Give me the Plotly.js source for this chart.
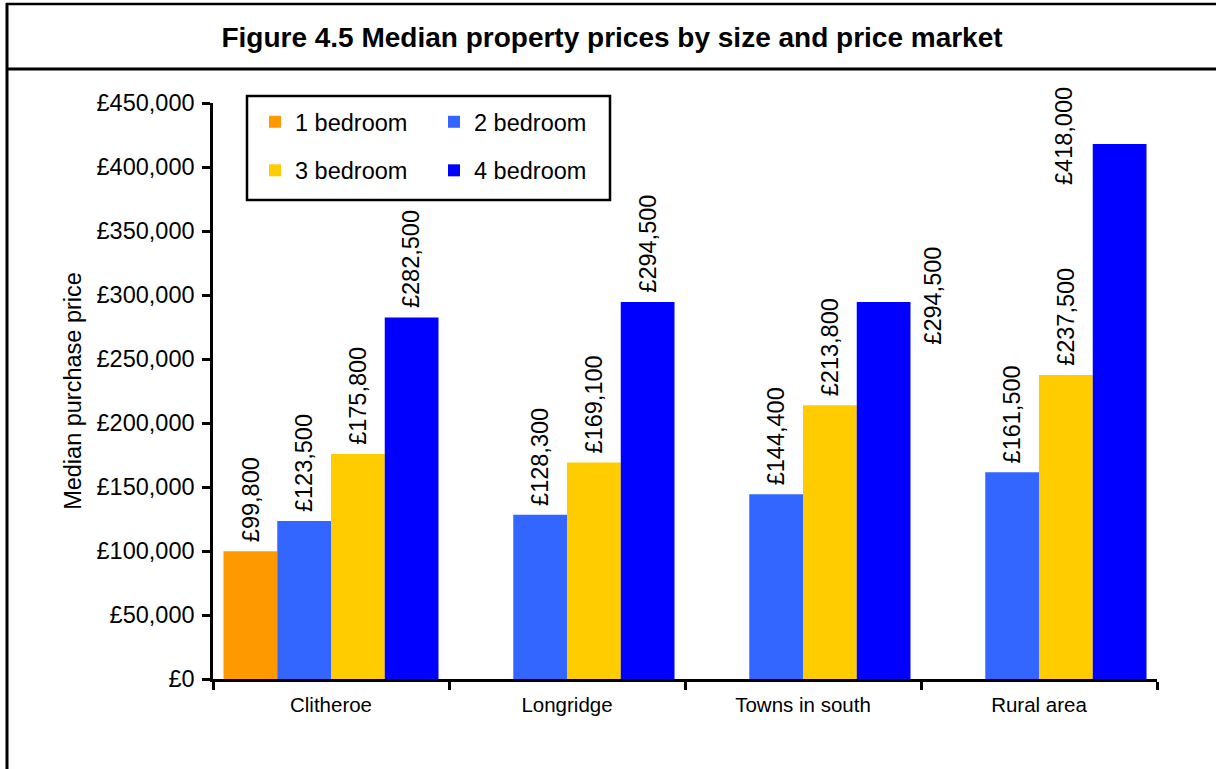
<!DOCTYPE html>
<html>
<head>
<meta charset="utf-8">
<script src="https://cdn.plot.ly/plotly-3.0.1.min.js"></script>
<style>
  html, body { margin: 0; padding: 0; background: #ffffff; }
  #chart { width: 1216px; height: 769px; }
</style>
</head>
<body>
<div id="chart"></div>
<script>
// ---- data ----
const categories = ['Clitheroe', 'Longridge', 'Towns in south', 'Rural area'];
const seriesNames = ['1 bedroom', '2 bedroom', '3 bedroom', '4 bedroom'];
const oneBedroom   = [99800, null, null, null];
const twoBedroom   = [123500, 128300, 144400, 161500];
const threeBedroom = [175800, 169100, 213800, 237500];
const fourBedroom  = [282500, 294500, 294500, 418000];
const yTickValues  = [0, 50000, 100000, 150000, 200000, 250000, 300000, 350000, 400000, 450000];

// ---- styling ----
const FONT = 'Liberation Sans, Arial, sans-serif';
const colors = ['#FF9900', '#3366FF', '#FFCC00', '#0000FF'];
const W = 1216, H = 769;
const M = { l: 213, r: 59, t: 103, b: 90 };
const plotW = W - M.l - M.r, plotH = H - M.t - M.b;
const px2x = px => (px - M.l) / plotW;
const px2y = py => (H - M.b - py) / plotH;
const BARGAP = 0.089;

const seriesValues = [oneBedroom, twoBedroom, threeBedroom, fourBedroom];
const legendOf = ['legend', 'legend2', 'legend', 'legend2'];
const fmt = v => '£' + v.toLocaleString('en-GB');

const traces = seriesValues.map((vals, i) => ({
  type: 'bar',
  name: seriesNames[i],
  x: categories,
  y: vals,
  marker: { color: colors[i], line: { width: 0 } },
  legend: legendOf[i],
  legendgroup: 'g' + i,
  hovertemplate: '%{x}<br>' + seriesNames[i] + ': £%{y:,}<extra></extra>'
}));

// data labels (vertical, above bars)
const catW = plotW / categories.length;
const barW = catW * (1 - BARGAP) / seriesValues.length;
// label placement overrides mimicking the original (series index - category index)
const labelOverride = {
  '3-2': { dx: barW * 1.5 + 49, anchor: 'middle', dy: 6 },
  '3-3': { dx: 25, anchor: 'middle', dy: 8 }
};
const annotations = [];
seriesValues.forEach((vals, i) => {
  vals.forEach((v, j) => {
    if (v === null) return;
    const ov = labelOverride[i + '-' + j];
    annotations.push({
      x: categories[j], y: v, xref: 'x', yref: 'y',
      text: fmt(v), showarrow: false, textangle: -90,
      xanchor: 'center',
      yanchor: ov ? ov.anchor : 'bottom',
      xshift: ov ? ov.dx : (i - 1.5) * barW,
      yshift: ov ? ov.dy : 7,
      font: { family: FONT, size: 23.5, color: '#000000' }
    });
  });
});

const blk = { color: '#000000', width: 2.5 };
const shapes = [
  // outer frame: top, left; title divider
  { type: 'line', xref: 'paper', yref: 'paper', x0: px2x(6), x1: px2x(1216), y0: px2y(4), y1: px2y(4), line: blk },
  { type: 'line', xref: 'paper', yref: 'paper', x0: px2x(7), x1: px2x(7), y0: px2y(3), y1: px2y(769), line: { color: '#000000', width: 3 } },
  { type: 'line', xref: 'paper', yref: 'paper', x0: px2x(6), x1: px2x(1216), y0: px2y(69), y1: px2y(69), line: { color: '#000000', width: 3 } },
  // legend box
  { type: 'rect', xref: 'paper', yref: 'paper', x0: px2x(247), x1: px2x(610), y0: px2y(200), y1: px2y(96), line: blk, fillcolor: 'rgba(0,0,0,0)' }
];

const legendCommon = {
  orientation: 'v', xanchor: 'left', yanchor: 'top',
  bgcolor: 'rgba(0,0,0,0)', borderwidth: 0,
  font: { family: FONT, size: 23.5, color: '#000000' },
  tracegroupgap: 15, traceorder: 'grouped'
};

const layout = {
  width: W, height: H,
  margin: M,
  paper_bgcolor: '#ffffff', plot_bgcolor: '#ffffff',
  font: { family: FONT, color: '#000000' },
  title: {
    text: '<b>Figure 4.5 Median property prices by size and price market</b>',
    font: { family: FONT, size: 28, color: '#000000' },
    xref: 'container', yref: 'container', x: 612 / W, xanchor: 'center',
    y: 1 - 37 / H, yanchor: 'middle'
  },
  barmode: 'group', bargap: BARGAP, bargroupgap: 0,
  xaxis: {
    type: 'category', tickson: 'boundaries', ticks: 'outside', ticklen: 8, tickwidth: 2.5, tickcolor: '#000000',
    showline: true, linecolor: '#000000', linewidth: 2.5, showgrid: false, zeroline: false,
    ticklabelstandoff: 6,
    tickfont: { family: FONT, size: 20.5, color: '#000000' }, fixedrange: true
  },
  yaxis: {
    range: [0, 450000], tickmode: 'array', tickvals: yTickValues, ticktext: yTickValues.map(fmt),
    ticks: 'outside', ticklen: 8, tickwidth: 2.5, tickcolor: '#000000',
    showline: true, linecolor: '#000000', linewidth: 2.5, showgrid: false, zeroline: false,
    ticklabelstandoff: 3,
    tickfont: { family: FONT, size: 23.5, color: '#000000' },
    title: { text: 'Median purchase price', font: { family: FONT, size: 23.5, color: '#000000' }, standoff: 9 },
    fixedrange: true
  },
  showlegend: true,
  legend: Object.assign({}, legendCommon, { x: px2x(255), y: px2y(100) }),
  legend2: Object.assign({}, legendCommon, { x: px2x(434), y: px2y(100) }),
  annotations: annotations,
  shapes: shapes
};

Plotly.newPlot('chart', traces, layout, { displayModeBar: false, responsive: false });
</script>
</body>
</html>
